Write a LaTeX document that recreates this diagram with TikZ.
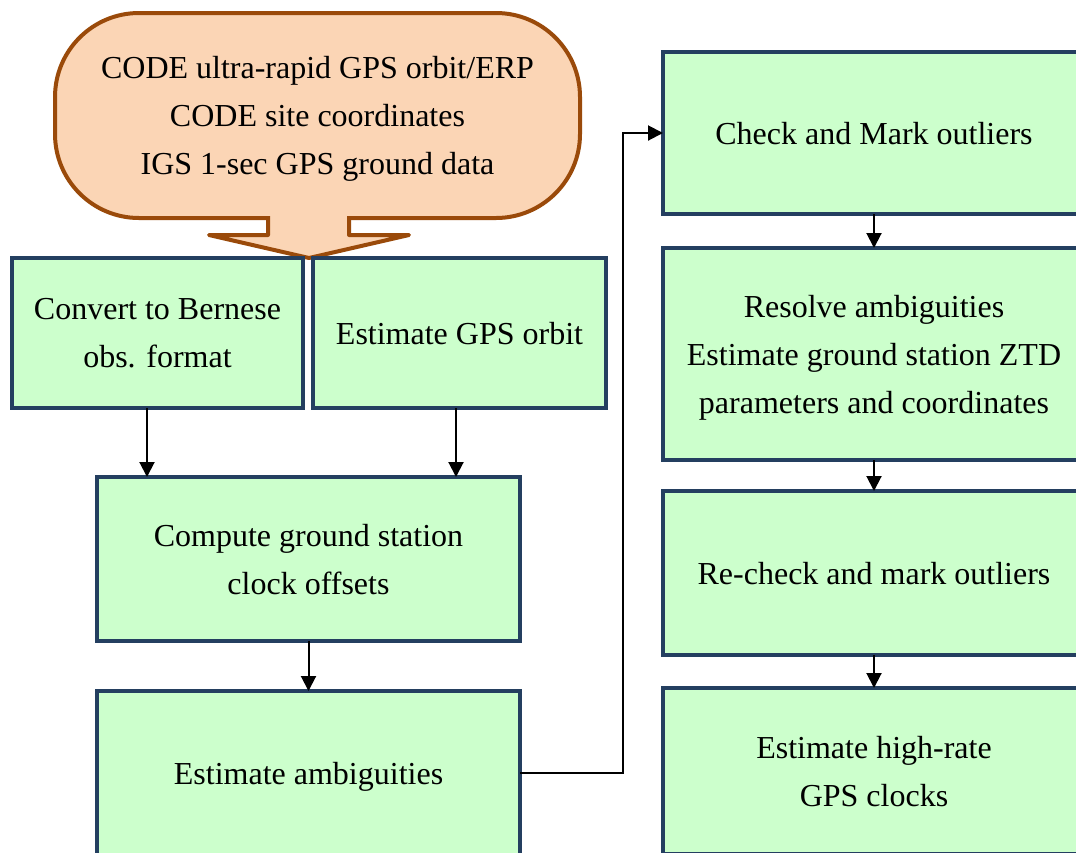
\documentclass[tikz,border=0pt]{standalone}
\usepackage{fontspec}
\setmainfont{Liberation Serif}
\usetikzlibrary{arrows.meta}
\definecolor{boxgreen}{HTML}{CCFFCC}
\definecolor{boxblue}{HTML}{243F60}
\definecolor{srcbrown}{HTML}{9A4A0A}
\definecolor{srcpeach}{HTML}{FBD5B5}
\tikzset{
	stepbox/.style={draw=boxblue, line width=2pt, fill=boxgreen, align=center, inner sep=0pt, outer sep=0pt, text depth=0pt},
	flow/.style={line width=1pt, -{Triangle[length=7.5pt,width=7.5pt]}}
}
\begin{document}
\begin{tikzpicture}[x=0.5pt, y=-0.5pt, font=\fontsize{16}{24}\selectfont]
		\useasboundingbox (0,0) rectangle (1076,852);
		\clip (0,0) rectangle (1076,852);
		\fill[white] (0,0) rectangle (1076,852);
		%Input data
		\node[draw=srcbrown, line width=2pt, fill=srcpeach, rounded corners=42pt, minimum width=262.5pt, minimum height=102.5pt, align=center, inner sep=0pt, outer sep=0pt, text depth=0pt] (src) at (317.5,115.5) {CODE ultra-rapid GPS orbit/ERP\\CODE site coordinates\\IGS 1-sec GPS ground data};
		\draw[draw=srcbrown, line width=2pt, fill=srcpeach, line join=round] (268,216)--(268,235)--(209,235)--(309,258)--(409,235)--(349,235)--(349,216);
		%Left column
		\node[stepbox, minimum width=145.5pt, minimum height=75pt] (conv) at (157.5,333) {Convert to Bernese\\obs. format};
		\node[stepbox, minimum width=146.5pt, minimum height=75pt] (orbit) at (459.5,333) {Estimate GPS orbit};
		\node[stepbox, minimum width=211.5pt, minimum height=82pt] (clock) at (308.5,559) {Compute ground station\\clock offsets};
		\node[stepbox, minimum width=211.5pt, minimum height=82pt] (ambig) at (308.5,773) {Estimate ambiguities};
		%Right column
		\node[stepbox, minimum width=211pt, minimum height=81pt] (check) at (874,133) {Check and Mark outliers};
		\node[stepbox, minimum width=211pt, minimum height=106pt] (resolve) at (874,354) {Resolve ambiguities\\Estimate ground station ZTD\\parameters and coordinates};
		\node[stepbox, minimum width=211pt, minimum height=82pt] (recheck) at (874,573) {Re-check and mark outliers};
		\node[stepbox, minimum width=211pt, minimum height=83pt] (hrclk) at (874,771) {Estimate high-rate\\GPS clocks};
		%Arrows
		\draw[flow] (conv.south -| 147,0) -- (clock.north -| 147,0);
		\draw[flow] (orbit.south -| 456,0) -- (clock.north -| 456,0);
		\draw[flow] (clock) -- (ambig);
		\draw[flow] (ambig.east) -| (623,133) -- (check.west);
		\draw[flow] (check) -- (resolve);
		\draw[flow] (resolve) -- (recheck);
		\draw[flow] (recheck) -- (hrclk);
\end{tikzpicture}
\end{document}
